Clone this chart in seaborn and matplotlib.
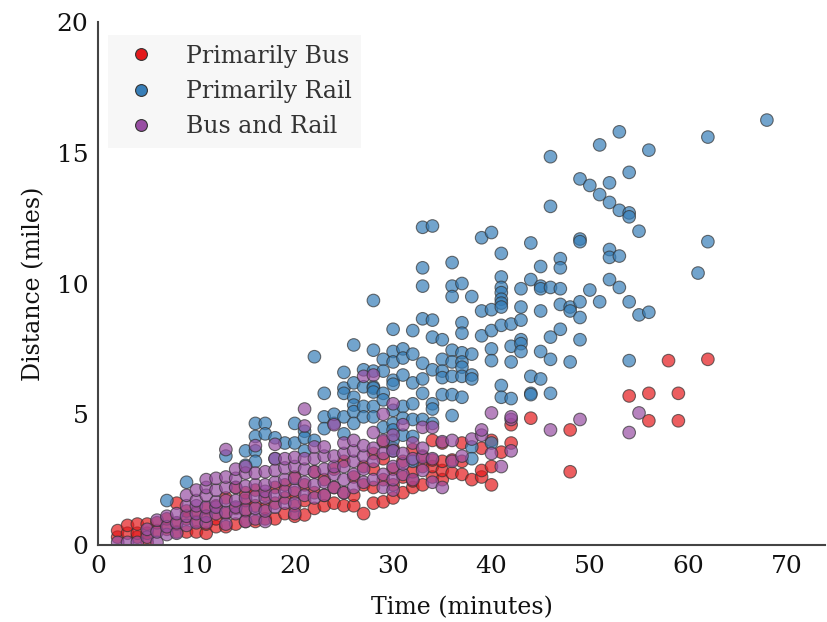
import matplotlib
matplotlib.use("Agg")
import matplotlib.pyplot as plt
from matplotlib.lines import Line2D
import seaborn as sns
import pandas as pd

# ---- data: time column (minutes) -> list of distances (miles) ----
bus_times = [2, 3, 4, 5, 6, 7, 8, 9, 10, 11, 12, 13, 14, 15, 16, 17, 18, 19, 20,
             21, 22, 23, 24, 25, 26, 27, 28, 29, 30, 31, 32, 33, 34, 35, 36, 37,
             38, 39, 40, 41, 42, 44, 48, 54, 56, 58, 59, 62]
bus_dists = [[0.3, 0.55], [0.45, 0.75], [0.3, 0.45, 0.8], [0.1, 0.45, 0.8],
             [0.55, 0.85], [0.6, 1.0], [0.5, 0.8, 1.6], [0.5, 1.0, 1.3],
             [0.5, 0.9, 1.25], [0.45, 0.8, 1.1, 1.4], [0.7, 1.0, 1.5],
             [0.7, 1.2, 1.8], [0.8, 1.4, 2.2], [0.9, 1.3, 1.7, 2.0],
             [0.9, 1.5, 2.1], [1.0, 1.4, 1.9], [1.0, 1.6, 2.2], [1.2, 1.8, 2.3],
             [1.1, 1.5, 2.0, 2.6], [1.15, 1.7, 2.3], [1.4, 2.0, 2.8],
             [1.5, 1.9, 2.5], [1.6, 2.2, 2.9], [1.5, 2.0, 3.2], [1.5, 1.9, 2.6],
             [1.2, 2.3, 3.0], [1.6, 2.2, 2.9, 3.5], [1.65, 2.5, 3.3, 3.95],
             [1.8, 2.3, 2.9, 3.7], [2.0, 2.6, 3.2], [2.2, 2.45, 2.8, 3.65],
             [2.3, 3.0, 3.4], [2.6, 3.0, 3.25, 4.0], [2.5, 2.85, 3.2, 3.9],
             [2.75, 3.25], [2.7, 3.2, 3.9], [2.5], [2.6, 2.85, 3.7],
             [2.3, 3.0, 4.0], [3.55], [3.9, 4.6], [4.85], [2.8, 4.4], [5.7],
             [4.75, 5.8], [7.05], [4.75, 5.8], [7.1]]

rail_times = [7, 9, 13, 15, 16, 17, 18, 19, 20, 21, 22, 23, 24, 25, 26, 27, 28,
              29, 30, 31, 32, 33, 34, 35, 36, 37, 38, 39, 40, 41, 42, 43, 44, 45,
              46, 47, 48, 49, 50, 51, 52, 53, 54, 55, 56, 61, 62, 68]
rail_dists = [[1.7], [2.4], [3.4], [3.6, 3.05], [4.65, 4.15, 3.6, 3.2],
              [4.65, 4.25], [4.1, 3.3], [3.9], [4.65, 3.9], [4.35, 4.1, 3.6],
              [7.2, 4.0], [5.8, 4.9, 4.45], [4.65, 5.0],
              [6.6, 6.0, 5.8, 4.9, 4.25], [7.65, 6.2, 5.65, 5.35, 5.1, 4.65],
              [6.7, 6.05, 5.3, 4.9], [9.35, 7.45, 6.65, 6.05, 6.0, 5.85, 5.3, 4.9],
              [7.1, 6.65, 5.8, 5.55, 4.5],
              [8.25, 7.4, 7.0, 6.3, 6.15, 5.15, 4.65, 4.4, 4.0, 3.6],
              [7.5, 7.15, 6.5, 5.3, 4.85, 4.2],
              [8.2, 7.3, 6.2, 5.4, 4.8, 4.15, 3.2],
              [12.15, 10.6, 9.9, 8.65, 6.95, 6.35, 5.8, 4.8],
              [12.2, 8.6, 7.95, 6.7, 5.4, 5.2, 4.65],
              [7.85, 7.1, 6.65, 6.4, 5.75],
              [10.8, 9.9, 9.5, 7.45, 7.0, 6.45, 5.75, 4.95],
              [10.0, 8.5, 8.1, 7.35, 7.0, 6.8, 6.45, 5.65],
              [9.5, 7.3, 6.5, 6.35, 3.75, 3.3], [11.75, 8.95, 8.0],
              [11.95, 9.0, 8.2, 7.5, 7.05, 3.9],
              [11.15, 10.25, 9.85, 9.65, 9.4, 9.25, 9.1, 8.4, 6.1, 5.65],
              [8.45, 7.6, 7.0, 5.6], [9.8, 9.1, 8.6, 7.85, 7.7, 7.4],
              [11.55, 10.15, 6.45, 5.8, 5.75],
              [10.65, 9.9, 9.8, 8.95, 7.4, 6.35],
              [14.85, 12.95, 9.85, 7.95, 7.1, 5.8],
              [10.95, 10.6, 9.8, 9.2, 8.25], [9.1, 8.95, 7.0],
              [14.0, 11.7, 11.6, 9.3, 8.7, 7.85], [13.75, 9.75],
              [15.3, 13.4, 9.3], [13.85, 13.1, 11.3, 11.0, 10.15],
              [15.8, 12.8, 11.05, 9.85], [14.25, 12.7, 12.55, 9.3, 7.05],
              [12.0, 8.8], [15.1, 8.9], [10.4], [15.6, 11.6], [16.25]]

both_times = [2, 3, 4, 5, 6, 7, 8, 9, 10, 11, 12, 13, 14, 15, 16, 17, 18, 19, 20,
              21, 22, 23, 24, 25, 26, 27, 28, 29, 30, 31, 32, 33, 34, 35, 36, 37,
              38, 39, 40, 41, 42, 46, 49, 54, 55]
both_dists = [[0.1], [0.1], [0.1], [0.3, 0.6], [0.1, 0.5, 0.95],
              [0.4, 0.7, 1.1], [0.45, 0.85, 1.2], [0.75, 1.1, 1.5, 1.9],
              [0.85, 1.2, 1.5, 1.7, 2.1], [0.85, 1.1, 1.45, 1.9, 2.2, 2.5],
              [1.2, 1.45, 1.65, 2.1, 2.55], [0.8, 1.25, 1.7, 2.2, 2.6, 3.65],
              [1.2, 1.45, 1.7, 2.2, 2.55, 2.9], [0.9, 1.35, 1.8, 2.25, 2.75, 3.0],
              [1.0, 1.4, 1.85, 2.3, 2.75, 3.8], [0.9, 1.3, 1.8, 2.05, 2.3, 2.8],
              [1.45, 1.9, 2.4, 2.85, 3.3, 3.85], [1.6, 2.05, 2.5, 2.95, 3.3],
              [1.2, 1.6, 2.1, 2.55, 3.0, 3.35], [1.9, 2.4, 2.9, 3.3, 4.55, 5.2],
              [1.8, 2.3, 2.8, 3.3, 3.75], [1.9, 2.4, 2.9, 3.4, 3.75],
              [2.2, 2.7, 3.0, 3.4, 4.6], [2.0, 2.5, 3.0, 3.5, 3.9],
              [2.2, 2.7, 3.2, 3.6, 4.0], [2.4, 2.9, 3.4, 3.8, 6.45],
              [2.5, 3.2, 3.7, 4.3, 6.5], [2.2, 2.7, 3.5, 4.0, 5.0],
              [2.1, 2.5, 3.0, 3.6, 4.2, 5.4], [2.7, 3.1, 3.5, 4.6],
              [2.5, 3.3, 3.9], [2.85, 3.35, 3.7, 4.5], [2.4, 3.3, 4.5],
              [2.2, 3.95], [3.2, 4.0], [3.4], [4.05], [4.2, 4.4], [3.5, 5.05],
              [3.0], [3.6, 4.8, 4.9], [4.4], [4.8], [4.3], [5.05]]

categories = ["Primarily Bus", "Primarily Rail", "Bus and Rail"]
palette = ["#e41a1c", "#377eb8", "#984ea3"]
x_ticks = [0, 10, 20, 30, 40, 50, 60, 70]
y_ticks = [0, 5, 10, 15, 20]

rows = []
for cat, times, dists in zip(categories,
                             [bus_times, rail_times, both_times],
                             [bus_dists, rail_dists, both_dists]):
    for t, ds in zip(times, dists):
        for d in ds:
            rows.append((t, d, cat))
df = pd.DataFrame(rows, columns=["Time", "Distance", "Mode"])

sns.set_style("white")
plt.rcParams["font.family"] = ["DejaVu Serif"]

fig = plt.figure(figsize=(8.27, 6.22), dpi=100)
ax = fig.add_axes([0.1185, 0.1238, 0.879, 0.8408])

sns.scatterplot(data=df, x="Time", y="Distance", hue="Mode",
                hue_order=categories, palette=palette, s=82, alpha=0.7,
                edgecolor="#333333", linewidth=0.8, legend=False, ax=ax)

ax.set_xlim(0, 73.9)
ax.set_ylim(0, 20)
ax.set_xticks(x_ticks)
ax.set_yticks(y_ticks)
ax.tick_params(axis="both", length=0, labelsize=18, pad=7, labelcolor="#111111")
ax.set_xlabel("Time (minutes)", fontsize=17, labelpad=13, color="#111111")
ax.set_ylabel("Distance (miles)", fontsize=17, labelpad=8, color="#111111")
for side in ["top", "right"]:
    ax.spines[side].set_visible(False)
for side in ["left", "bottom"]:
    ax.spines[side].set_color("#444444")
    ax.spines[side].set_linewidth(1.5)

handles = [Line2D([0], [0], marker="o", linestyle="", markersize=8.5,
                  markerfacecolor=c, markeredgecolor="#333333",
                  markeredgewidth=0.8) for c in palette]
leg = ax.legend(handles, categories, loc="upper left",
                bbox_to_anchor=(0.0137, 0.975), borderaxespad=0,
                fontsize=17, frameon=True,
                facecolor="#f7f7f7", edgecolor="none", framealpha=1,
                handletextpad=0.9, borderpad=0.4, labelspacing=0.52,
                fancybox=False)
for txt in leg.get_texts():
    txt.set_color("#333333")

fig.savefig("out.png", dpi=100)
